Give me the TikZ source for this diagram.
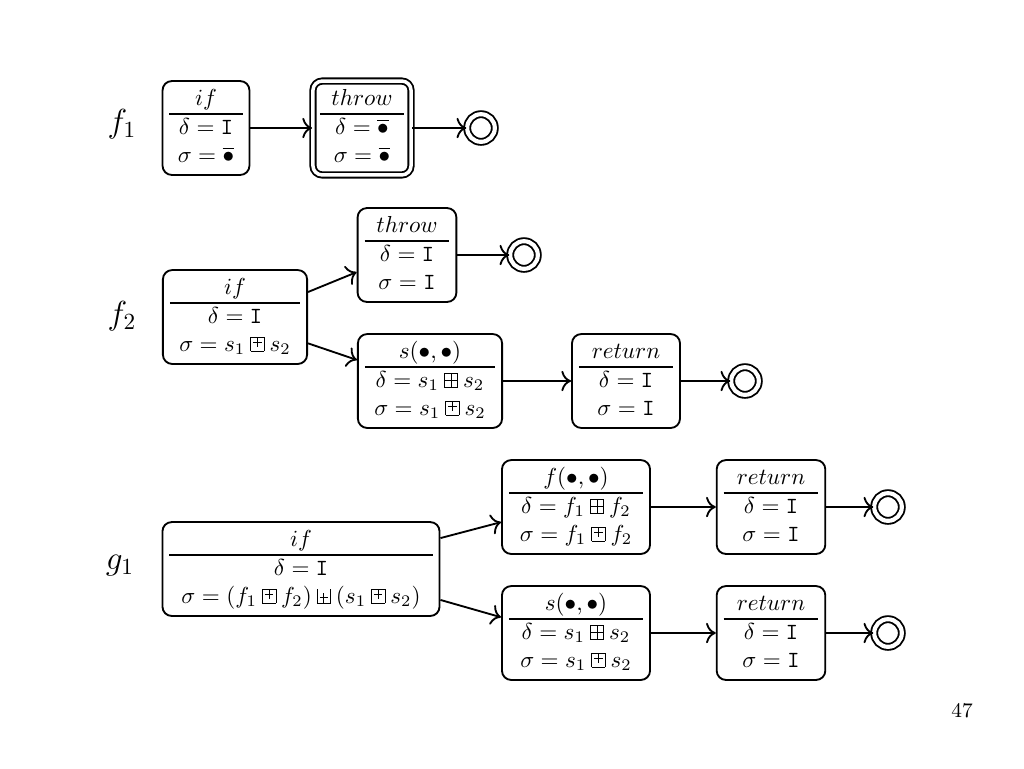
\documentclass[tikz,border=0pt]{standalone}
\usepackage{amsmath,amssymb}
\usepackage{tikz}
\usetikzlibrary{calc,arrows.meta}

% small box operators
\newcommand{\dplus}{\mathbin{\setlength{\unitlength}{0.06em}\begin{picture}(10,10)
  \put(0,0){\line(1,0){10}}\put(0,10){\line(1,0){10}}
  \put(0,0){\line(0,1){10}}\put(10,0){\line(0,1){10}}
  \put(0,5){\line(1,0){10}}\put(5,0){\line(0,1){10}}\end{picture}}}
\newcommand{\splus}{\mathbin{\setlength{\unitlength}{0.06em}\begin{picture}(10,10)
  \put(0,0){\line(1,0){10}}\put(0,10){\line(1,0){10}}
  \put(0,0){\line(0,1){10}}\put(10,0){\line(0,1){10}}
  \put(2,6){\line(1,0){6}}\put(5,3){\line(0,1){7}}\end{picture}}}
\newcommand{\gplus}{\mathbin{\setlength{\unitlength}{0.06em}\begin{picture}(10,10)
  \put(0,0){\line(1,0){10}}
  \put(0,0){\line(0,1){10}}\put(10,0){\line(0,1){10}}
  \put(2,4){\line(1,0){6}}\put(5,0){\line(0,1){7}}\end{picture}}}
\newcommand{\undef}{\mathtt{I}}
\newcommand{\err}{\overline{\bullet}}
\newcommand{\card}[4]{$\begin{array}{@{}c@{}}\makebox[#1]{$#2$}\\\hline #3\\ #4\end{array}$}
\setlength{\arrayrulewidth}{0.6pt}

\begin{document}
\begin{tikzpicture}[>={To[scale=1.25]},x=0.0152cm,y=-0.0152cm,
    box/.style={draw,line width=0.8pt,rounded corners=4pt,inner xsep=3pt,inner ysep=2pt,minimum height=1.37cm},
    dbox/.style={box,double,double distance=1.5pt},
    final/.style={draw,circle,line width=0.8pt,double,double distance=1.8pt,minimum size=0.42cm,inner sep=0pt},
    arr/.style={->,line width=0.8pt},
    lab/.style={font=\Large}
  ]
  \useasboundingbox (0,0) rectangle (1024,768);

  % f1
  \node[lab] (lab1) at (122,124) {$f_1$};
  \node[box] (if1) at (206,128) {\card{1.11cm}{if}{\delta = \undef}{\sigma = \err}};
  \node[dbox] (throw1) at (362,128) {\card{1.28cm}{throw}{\delta = \err}{\sigma = \err}};
  \node[final] (end1) at (481,128) {};
  \draw[arr] (if1) -- (throw1);
  \draw[arr] (throw1) -- (end1);

  % f2
  \node[lab] (lab2) at (122,316) {$f_2$};
  \node[box] (if2) at (235,317) {\card{1.98cm}{if}{\delta = \undef}{\sigma = s_1 \splus s_2}};
  \node[box] (throw2) at (407,255) {\card{1.29cm}{throw}{\delta = \undef}{\sigma = \undef}};
  \node[final] (end2a) at (524,255) {};
  \node[box] (s2) at (430,381) {\card{1.98cm}{s(\bullet,\bullet)}{\delta = s_1 \dplus s_2}{\sigma = s_1 \splus s_2}};
  \node[box] (ret2) at (626,381) {\card{1.43cm}{return}{\delta = \undef}{\sigma = \undef}};
  \node[final] (end2b) at (745,381) {};
  \draw[arr] ([yshift=0.38cm]if2.east) -- ([yshift=-0.26cm]throw2.west);
  \draw[arr] ([yshift=-0.40cm]if2.east) -- ([yshift=0.32cm]s2.west);
  \draw[arr] (throw2) -- (end2a);
  \draw[arr] (s2) -- (ret2);
  \draw[arr] (ret2) -- (end2b);

  % g1
  \node[lab] (lab3) at (120,566) {$g_1$};
  \node[box] (if3) at (301,569) {\card{4.0cm}{if}{\delta = \undef}{\sigma = (f_1 \splus f_2) \gplus (s_1 \splus s_2)}};
  \node[box] (f3) at (576,507) {\card{2.04cm}{f(\bullet,\bullet)}{\delta = f_1 \dplus f_2}{\sigma = f_1 \splus f_2}};
  \node[box] (ret3a) at (771,507) {\card{1.44cm}{return}{\delta = \undef}{\sigma = \undef}};
  \node[final] (end3a) at (888,507) {};
  \node[box] (s3) at (576,633) {\card{2.04cm}{s(\bullet,\bullet)}{\delta = s_1 \dplus s_2}{\sigma = s_1 \splus s_2}};
  \node[box] (ret3b) at (771,633) {\card{1.44cm}{return}{\delta = \undef}{\sigma = \undef}};
  \node[final] (end3b) at (888,633) {};
  \draw[arr] ([yshift=0.47cm]if3.east) -- ([yshift=-0.23cm]f3.west);
  \draw[arr] ([yshift=-0.47cm]if3.east) -- ([yshift=0.24cm]s3.west);
  \draw[arr] (f3) -- (ret3a);
  \draw[arr] (ret3a) -- (end3a);
  \draw[arr] (s3) -- (ret3b);
  \draw[arr] (ret3b) -- (end3b);

  \node[font=\small] (page) at (962,711) {47};
\end{tikzpicture}
\end{document}
